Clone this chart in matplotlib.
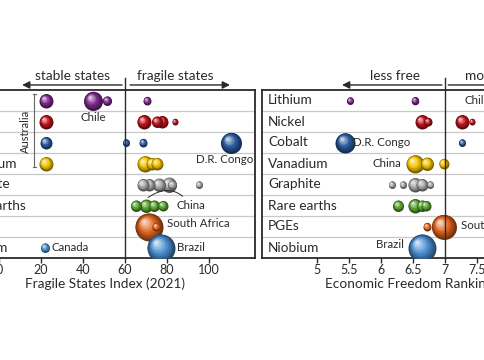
import matplotlib
matplotlib.use('Agg')
import matplotlib.pyplot as plt
import matplotlib.transforms as mtransforms
import numpy as np
from matplotlib.colors import to_rgb

plt.rcParams['font.family'] = ['Lato', 'DejaVu Sans']

# ---------------- data ----------------
minerals = ["Lithium", "Nickel", "Cobalt", "Vanadium", "Graphite",
            "Rare earths", "PGEs", "Niobium"]
mineral_colors = ["#7D2A8C", "#C0121B", "#2C5AA0", "#F2C200", "#A8A8A8",
                  "#5AA532", "#E0641E", "#4B8FD0"]

# Fragile States Index (2021) of producer countries, per mineral
fsi_values = [
    [22.4, 44.8, 51.4, 70.5],
    [22.4, 69.0, 75.2, 77.6, 83.8],
    [22.4, 60.5, 68.6, 110.5],
    [22.4, 69.5, 72.9, 75.2],
    [68.6, 71.4, 76.2, 81.0, 82.4, 95.2],
    [65.2, 70.0, 73.8, 78.0],
    [71.4, 74.8],
    [21.9, 77.1],
]
fsi_sizes = [
    [7, 9.5, 4.5, 4],
    [7, 7, 5.5, 6, 3],
    [6, 3.5, 4, 10.5],
    [7, 8, 6, 6],
    [6, 6, 6.5, 7.5, 4.5, 3.5],
    [5.5, 6.5, 5.5, 5],
    [14, 4],
    [4.5, 14],
]

# Economic Freedom Ranking of producer countries, per mineral
efr_values = [
    [5.52, 6.53],
    [6.64, 6.73, 7.27, 7.42],
    [5.44, 7.27],
    [6.53, 6.72, 6.98],
    [6.17, 6.34, 6.53, 6.64, 6.77],
    [6.27, 6.53, 6.64, 6.70],
    [6.98, 6.72],
    [6.64],
]
efr_sizes = [
    [3.5, 3.8],
    [7, 4, 7, 3],
    [10, 3.5],
    [9, 6.5, 5],
    [3.5, 3.5, 7, 6, 3.5],
    [5.5, 7, 5.5, 5],
    [12.5, 4],
    [14],
]

fsi_ticks = [0, 20, 40, 60, 80, 100]
efr_ticks = [5, 5.5, 6, 6.5, 7, 7.5, 8, 8.5]
efr_ticklabels = ["5", "5.5", "6", "6.5", "7", "7.5", "8", "8.5"]

# ---------------- figure ----------------
W, H = 485, 360
fig = plt.figure(figsize=(W / 100, H / 100), dpi=100)

ax_top_px, ax_bot_px = 90, 258
axL = fig.add_axes([-49 / W, 1 - ax_bot_px / H, 304 / W, (ax_bot_px - ax_top_px) / H])
axR = fig.add_axes([262 / W, 1 - ax_bot_px / H, 304 / W, (ax_bot_px - ax_top_px) / H])

axL.set_xlim(-22.86, 121.9)
axR.set_xlim(4.14, 8.89)

dark = "#2a2a2a"


def sphere(ax, x, y, r, color):
    base = np.array(to_rgb(color))
    n = 12
    for k in range(n):
        t = k / (n - 1)
        f = 1 - 0.88 * t
        if t < 0.45:
            c = base * (0.5 + 0.5 * t / 0.45)
        else:
            c = base + (1 - base) * ((t - 0.45) / 0.55) * 0.75
        c = np.clip(c, 0, 1)
        off = (1 - f) * r * 0.42 * 0.72
        tr = mtransforms.offset_copy(ax.transData, fig=fig, x=-off, y=off, units='points')
        ax.scatter([x], [y], s=(2 * r * f * 0.72) ** 2, color=[c], transform=tr,
                   linewidths=0, zorder=3)


for ax, vals, sizes in ((axL, fsi_values, fsi_sizes), (axR, efr_values, efr_sizes)):
    ax.set_ylim(8, 0)
    ax.set_yticks([])
    for i in range(1, 8):
        ax.axhline(i, color="#c8c8c8", lw=0.9, zorder=1)
    for i, (xs, ss) in enumerate(zip(vals, sizes)):
        order = np.argsort(ss)[::-1]
        for j in order:
            sphere(ax, xs[j], i + 0.5, ss[j], mineral_colors[i])
    for i, m in enumerate(minerals):
        ax.text(0.02, i + 0.5, m, transform=ax.get_yaxis_transform(), ha="left",
                va="center", fontsize=9.8, color=dark, zorder=5)
    for sp in ax.spines.values():
        sp.set_color(dark)
        sp.set_linewidth(1.3)
    ax.tick_params(axis="x", direction="out", length=3.5, width=1, color=dark,
                   labelsize=9, labelcolor=dark, pad=0.5)

axL.set_xticks(fsi_ticks)
axR.set_xticks(efr_ticks)
axR.set_xticklabels(efr_ticklabels)

axL.set_xlabel("Fragile States Index (2021)", fontsize=9.8, color=dark)
axL.xaxis.set_label_coords(0.507, -0.118)
axR.set_xlabel("Economic Freedom Ranking", fontsize=9.8, color=dark)
axR.xaxis.set_label_coords(0.207, -0.118)
axR.xaxis.label.set_ha("left")

# headers with arrows and divider lines
def header(ax, xdiv, lt, lx, la, rt, rx, ra, rha):
    tr = ax.get_xaxis_transform()
    ax.plot([xdiv, xdiv], [0, 1.071], transform=tr, color=dark, lw=1.0,
            clip_on=False, zorder=6)
    arrow = dict(arrowstyle='-|>', lw=1.0, color=dark, mutation_scale=11,
                 shrinkA=0, shrinkB=0)
    ax.annotate('', xy=(la[1], 1.03), xytext=(la[0], 1.03), xycoords=tr,
                arrowprops=arrow, annotation_clip=False)
    ax.annotate('', xy=(ra[1], 1.03), xytext=(ra[0], 1.03), xycoords=tr,
                arrowprops=arrow, annotation_clip=False)
    ax.text(lx, 1.083, lt, transform=tr, ha="center", va="center",
            fontsize=9.8, color=dark)
    ax.text(rx, 1.083, rt, transform=tr, ha=rha, va="center",
            fontsize=9.8, color=dark)


header(axL, 60, "stable states", 35.2, (58.6, 11), "fragile states", 83.8,
       (62.4, 110), "center")
header(axR, 7, "less free", 6.22, (6.95, 5.39), "more free", 7.31,
       (7.05, 8.6), "left")

# Australia bracket
axL.plot([16.7, 16.7], [0.19, 3.67], color="#666666", lw=0.8, zorder=2)
axL.plot([16.0, 17.4], [0.19, 0.19], color="#666666", lw=0.8, zorder=2)
axL.plot([16.0, 17.4], [3.67, 3.67], color="#666666", lw=0.8, zorder=2)
axL.text(12.4, 1.95, "Australia", rotation=90, ha="center", va="center",
         fontsize=8, color=dark)

lab = dict(fontsize=8.3, color=dark, zorder=6, va="center")
axL.text(45, 1.29, "Chile", ha="center", **lab)
axL.text(107.6, 3.29, "D.R. Congo", ha="center", **lab)
axL.annotate("China", xy=(71, 5.12), xytext=(84.5, 5.5), ha="left",
             arrowprops=dict(arrowstyle='-', connectionstyle='arc3,rad=0.5',
                             lw=0.7, color=dark, shrinkA=1, shrinkB=0),
             **lab)
axL.text(80, 6.38, "South Africa", ha="left", **lab)
axL.text(25.2, 7.52, "Canada", ha="left", **lab)
axL.text(84.8, 7.52, "Brazil", ha="left", **lab)

axR.text(7.31, 0.52, "Chile", ha="left", **lab)
axR.text(5.56, 2.5, "D.R. Congo", ha="left", **lab)
axR.text(6.31, 3.52, "China", ha="right", **lab)
axR.text(7.25, 6.43, "South Africa", ha="left", **lab)
axR.text(6.36, 7.38, "Brazil", ha="right", **lab)

fig.savefig("out.png", dpi=100)
